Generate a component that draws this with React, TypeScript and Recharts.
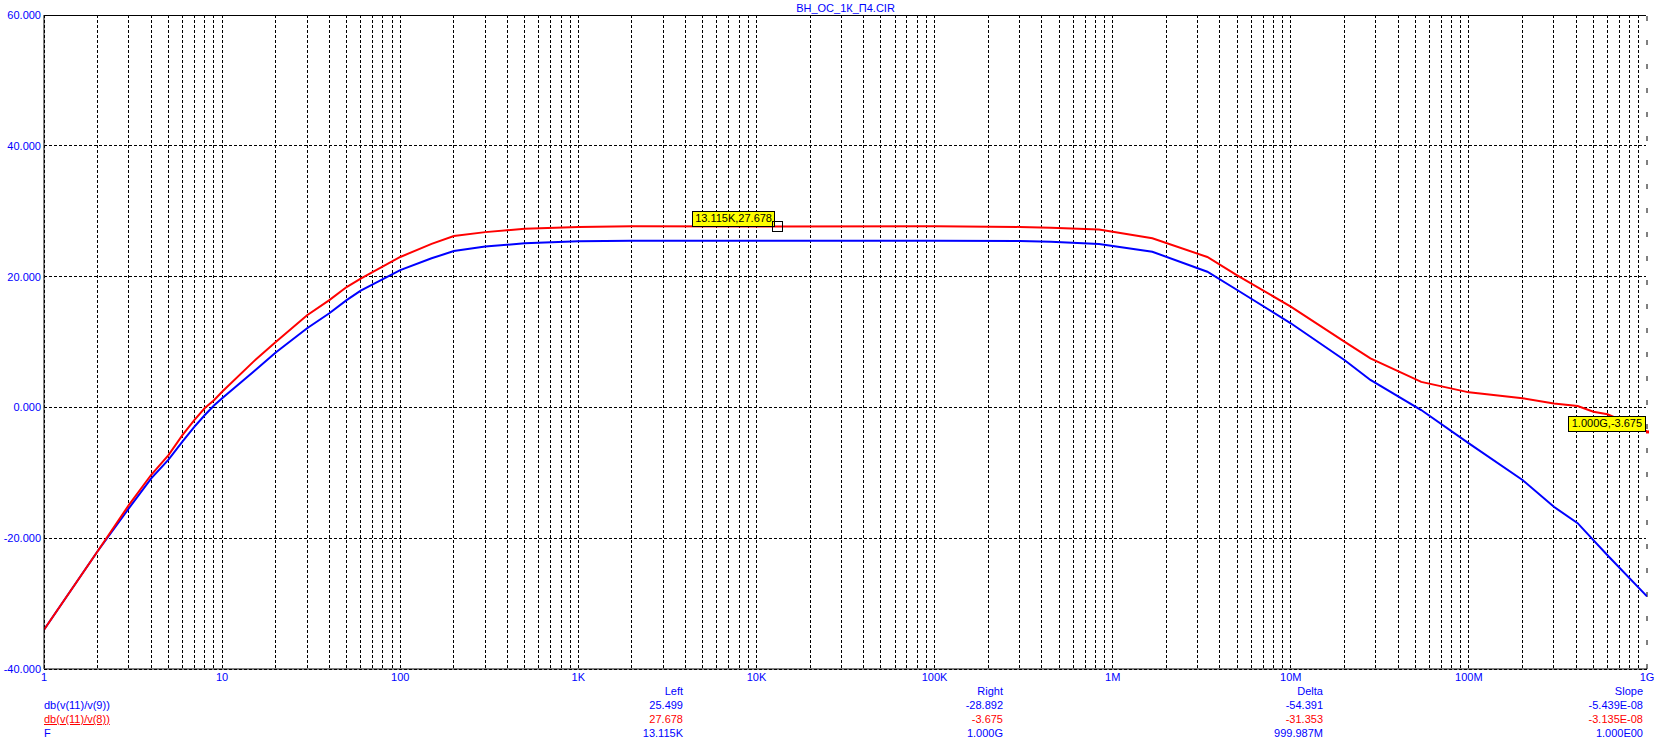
import React from 'react';
import {
  LineChart,
  Line,
  XAxis,
  YAxis,
  CartesianGrid,
  ReferenceLine,
  ReferenceDot,
} from 'recharts';

// frequency points (Hz)
const freqs = [
  1, 2, 3, 4, 5, 6, 7, 8, 9, 10, 15, 20, 30, 40, 50, 60, 100, 150, 200, 300, 500,
  1000, 2000, 13115, 100000, 300000, 449000, 838000, 1.67e6, 3.4e6, 5e6, 1e7, 2e7,
  2.8e7, 5.4e7, 1e8, 2e8, 3e8, 4.08e8, 5e8, 6e8, 1e9,
];

// db(v(11)/v(9))
const blueDb = [
  -34.0, -22.0, -15.4, -10.85, -8.0, -5.2, -2.95, -1.16, 0.3, 1.4, 5.46, 8.4, 12.1, 14.4,
  16.4, 17.85, 21.0, 22.8, 23.9, 24.6, 25.1, 25.4, 25.5, 25.499, 25.5, 25.45, 25.34, 24.98,
  23.8, 20.75, 17.95, 12.86, 7.25, 4.2, -0.4, -5.5, -11.1, -15.2, -17.7, -20.3, -22.6,
  -28.892,
];

// db(v(11)/v(8))
const redDb = [
  -34.0, -22.0, -14.9, -10.3, -7.3, -4.2, -1.9, -0.1, 1.1, 2.4, 7.0, 10.0, 14.1, 16.4, 18.4,
  19.7, 23.0, 25.0, 26.2, 26.8, 27.3, 27.6, 27.68, 27.678, 27.68, 27.6, 27.48, 27.2, 25.85,
  23.0, 20.2, 15.4, 10.05, 7.5, 3.9, 2.3, 1.4, 0.6, 0.2, -0.66, -1.06, -3.675,
];

const decades = [1, 10, 100, 1e3, 1e4, 1e5, 1e6, 1e7, 1e8, 1e9];
const decadeLabels = ['1', '10', '100', '1K', '10K', '100K', '1M', '10M', '100M', '1G'];
const minorMults = [1, 2, 3, 4, 5, 6, 7, 8, 9];
const yTicks = [-40, -20, 0, 20, 40, 60];

const title = 'ВН_ОС_1К_П4.CIR';

const cursors = [
  { f: 13115, db: 27.678, text: '13.115K,27.678', marker: 'box' },
  { f: 1e9, db: -3.675, text: '1.000G,-3.675', marker: 'dot' },
];

const rowNames = ['db(v(11)/v(9))', 'db(v(11)/v(8))', 'F'];
const rowColors = ['#0000ff', '#ff0000', '#0000ff'];
const colHeads = ['Left', 'Right', 'Delta', 'Slope'];
const colValues = [
  ['25.499', '27.678', '13.115K'],
  ['-28.892', '-3.675', '1.000G'],
  ['-54.391', '-31.353', '999.987M'],
  ['-5.439E-08', '-3.135E-08', '1.000E00'],
];
const colRight = [683, 1003, 1323, 1643];

const data = freqs.map((f, i) => ({ f, blue: blueDb[i], red: redDb[i] }));

const xTicks: number[] = [];
decades.slice(0, -1).forEach((d) => minorMults.forEach((m) => xTicks.push(d * m)));
xTicks.push(1e9);

const FONT = 'Arial, "Liberation Sans", sans-serif';

const fmtX = (v: number) => {
  const i = decades.findIndex((d) => Math.abs(d - v) / d < 1e-6);
  return i >= 0 ? decadeLabels[i] : '';
};

const CursorShape = (props: any) => {
  const { cx, cy, c } = props;
  const w = c.text.length * 5.55 + 4;
  const h = 15;
  const right = c.marker === 'box' ? cx - 3 : cx - 2;
  return (
    <g>
      <rect x={right - w} y={cy - h} width={w} height={h} fill="#ffff00" stroke="#000" strokeWidth={1} shapeRendering="crispEdges" />
      <text x={right - w / 2} y={cy - 4} textAnchor="middle" fontSize={11} fontFamily={FONT} fill="#000">
        {c.text}
      </text>
      {c.marker === 'box' ? (
        <rect x={cx - 5} y={cy - 5} width={10} height={10} fill="none" stroke="#000" strokeWidth={1} shapeRendering="crispEdges" />
      ) : (
        <rect x={cx - 1} y={cy - 1} width={3} height={3} fill="#ff0000" />
      )}
    </g>
  );
};

export default function App() {
  const textStyle: React.CSSProperties = {
    position: 'absolute',
    fontFamily: FONT,
    fontSize: 11,
    lineHeight: '14px',
    whiteSpace: 'nowrap',
  };
  return (
    <div style={{ position: 'absolute', left: 0, top: 0, width: 1676, height: 745, background: '#fff', overflow: 'hidden' }}>
      <LineChart width={1676} height={745} data={data} margin={{ top: 15, right: 29, bottom: 56, left: 0 }}>
        <CartesianGrid stroke="#000" strokeDasharray="3 2" shapeRendering="crispEdges" />
        <XAxis
          dataKey="f"
          type="number"
          scale="log"
          domain={[1, 1e9]}
          ticks={xTicks}
          interval={0}
          tickFormatter={fmtX}
          tickLine={false}
          tickSize={0}
          tickMargin={4}
          height={20}
          axisLine={{ stroke: '#000', strokeWidth: 1 }}
          tick={{ fill: '#0000ff', fontSize: 11, fontFamily: FONT }}
          allowDataOverflow
        />
        <YAxis
          type="number"
          domain={[-40, 60]}
          ticks={yTicks}
          interval={0}
          tickFormatter={(v: number) => v.toFixed(3)}
          tickLine={false}
          tickSize={0}
          tickMargin={3}
          width={44}
          axisLine={{ stroke: '#000', strokeWidth: 1 }}
          tick={{ fill: '#0000ff', fontSize: 11, fontFamily: FONT }}
        />
        <ReferenceLine y={60} stroke="#000" strokeWidth={1} shapeRendering="crispEdges" />
        <ReferenceLine x={1e9} stroke="#fff" strokeWidth={2} />
        <ReferenceLine x={1e9} stroke="#000" strokeWidth={1} strokeDasharray="5 19" />
        <Line dataKey="blue" stroke="#0000ff" strokeWidth={2} dot={false} type="linear" isAnimationActive={false} />
        <Line dataKey="red" stroke="#ff0000" strokeWidth={2} dot={false} type="linear" isAnimationActive={false} />
        {cursors.map((c) => (
          <ReferenceDot key={c.text} x={c.f} y={c.db} ifOverflow="visible" shape={(p: any) => <CursorShape {...p} c={c} />} />
        ))}
      </LineChart>

      <div style={{ ...textStyle, left: 0, width: 1691, top: 1, textAlign: 'center', color: '#0000ff' }}>{title}</div>

      {rowNames.map((n, i) => (
        <div
          key={n}
          style={{
            ...textStyle,
            left: 44,
            top: 698 + i * 14,
            color: rowColors[i],
            textDecoration: i === 1 ? 'underline' : 'none',
          }}
        >
          {n}
        </div>
      ))}

      {colHeads.map((h, j) => (
        <React.Fragment key={h}>
          <div style={{ ...textStyle, left: colRight[j] - 200, width: 200, top: 684, textAlign: 'right', color: '#0000ff' }}>{h}</div>
          {colValues[j].map((v, i) => (
            <div
              key={i}
              style={{ ...textStyle, left: colRight[j] - 200, width: 200, top: 698 + i * 14, textAlign: 'right', color: rowColors[i] }}
            >
              {v}
            </div>
          ))}
        </React.Fragment>
      ))}
    </div>
  );
}
